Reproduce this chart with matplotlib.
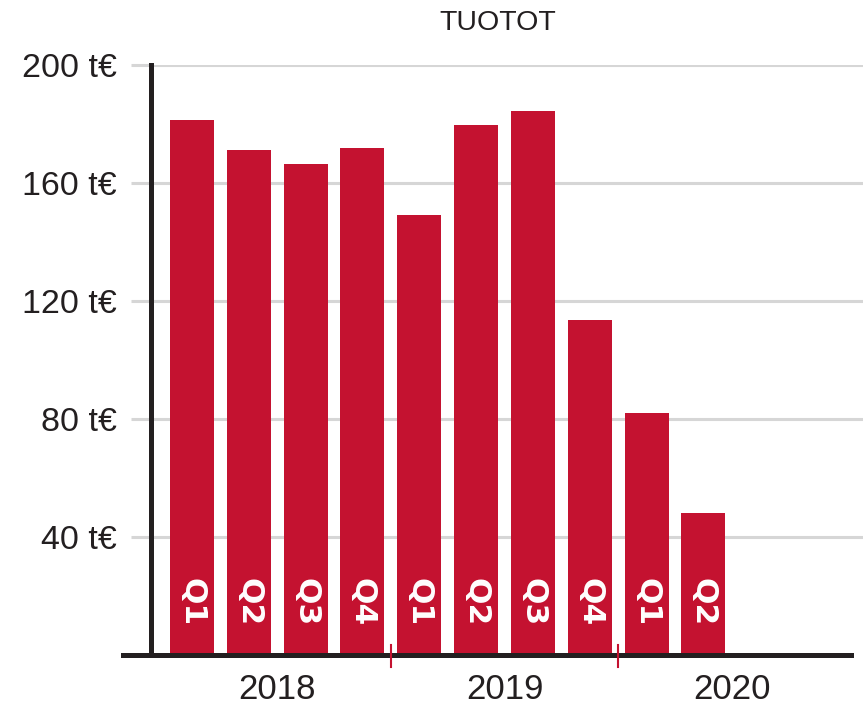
import matplotlib
matplotlib.use("Agg")
import matplotlib.pyplot as plt

# data
quarters = ["Q1", "Q2", "Q3", "Q4", "Q1", "Q2", "Q3", "Q4", "Q1", "Q2"]
revenue = [181.3, 171.2, 166.3, 172.0, 149.2, 179.7, 184.3, 113.4, 82.0, 48.0]
years = ["2018", "2019", "2020"]
y_ticks = [40, 80, 120, 160, 200]
y_labels = ["40 t€", "80 t€", "120 t€", "160 t€", "200 t€"]
title = "TUOTOT"

red = "#c41230"
dark = "#231f20"
grey = "#d6d6d6"

plt.rcParams["font.family"] = ["Liberation Sans", "DejaVu Sans"]

fig = plt.figure(figsize=(8.63, 7.05), dpi=100)
ax = fig.add_axes([151 / 863, 50 / 705, 712 / 863, 590 / 705])

x = list(range(len(revenue)))
ax.bar(x, revenue, width=0.775, color=red, zorder=2)

# quarter labels inside bars
for xi, q in zip(x, quarters):
    ax.text(xi, 18.0, q, rotation=270, ha="center", va="center",
            color="white", fontsize=22.5, fontweight="bold",
            family="DejaVu Sans", zorder=3)

ax.set_xlim(-0.722, 11.81)
ax.set_ylim(0, 200)

# y axis: gridlines + grey ticks running out towards the labels
ax.set_yticks(y_ticks)
ax.set_yticklabels(y_labels, fontsize=24.5, color=dark)
ax.yaxis.grid(True, color=grey, linewidth=2.2, zorder=0)
ax.set_axisbelow(True)
ax.tick_params(axis="y", length=14.4, width=2.2, color=grey, pad=10.5)

# year labels below the axis
ax.set_xticks([1.5, 5.5, 9.5])
ax.set_xticklabels(years, fontsize=25, color=dark)
ax.tick_params(axis="x", length=0, pad=13)

for s in ["top", "right", "bottom"]:
    ax.spines[s].set_visible(False)
ax.spines["left"].set_linewidth(3.6)
ax.spines["left"].set_color(dark)
ax.spines["left"].set_zorder(4)

# baseline, a bit wider than the plot area
ax.axhline(0, xmin=-28 / 712, xmax=700 / 712, color=dark, linewidth=3.6,
           clip_on=False, zorder=4)

# small red year separators
for sep in [3.5, 7.5]:
    ax.plot([sep, sep], [3.4, -4.1], color=red, linewidth=1.5,
            clip_on=False, zorder=5)

fig.text(498 / 863, 1 - 23.5 / 705, title, ha="center", va="center",
         fontsize=20.5, color=dark)

fig.savefig("out.png", dpi=100)
